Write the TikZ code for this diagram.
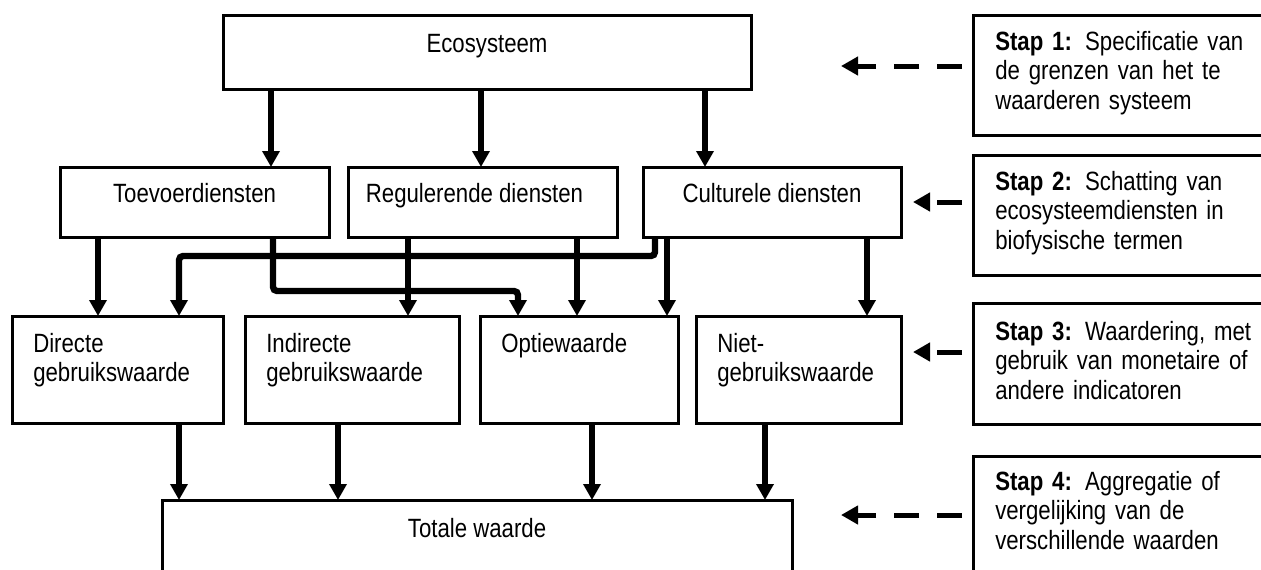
\documentclass[tikz,border=0pt]{standalone}
\usepackage{fontspec}
\setmainfont{Liberation Sans}[FakeStretch=0.84]
\usetikzlibrary{arrows.meta,positioning}

\begin{document}
\begin{tikzpicture}[
  x=0.25mm, y=-0.25mm,
  box/.style={draw=black, line width=0.75mm, anchor=north west,
              inner sep=0pt, outer sep=0pt},
  txt/.style={inner sep=0pt, font=\fontsize{18.8}{21}\selectfont},
  label/.style={txt, anchor=base},
  val/.style={txt, anchor=base west, text width=50mm, align=left},
  stap/.style={txt, anchor=base west, text width=72mm, align=left},
  link/.style={-{Triangle[length=4mm, width=4.2mm]}, line width=1.6mm, draw=black},
  back/.style={-{Triangle[length=4.25mm, width=4.5mm]}, line width=1.25mm,
               dash pattern=on 6.25mm off 4.5mm, shorten <=2.75mm, draw=black}
]
\useasboundingbox (0,0) rectangle (1261,569);
\clip (0,0) rectangle (1261,569);

% ecosystem
\node[box, minimum width=132mm, minimum height=18.5mm] (eco) at (223,15) {};
\node[label] (eco-t) at ([yshift=-9.25mm]eco.north) {Ecosysteem};

% services
\node[box, minimum width=67.25mm, minimum height=17.5mm] (toe) at (60,167) {};
\node[box, minimum width=67.25mm, minimum height=17.5mm] (reg) at (348,167) {};
\node[box, minimum width=64.5mm, minimum height=17.5mm] (cul) at (643,167) {};
\node[label] (toe-t) at ([yshift=-8.75mm]toe.north) {Toevoerdiensten};
\node[label] (reg-t) at ([xshift=-2mm, yshift=-8.75mm]reg.north) {Regulerende diensten};
\node[label] (cul-t) at ([yshift=-8.75mm]cul.north) {Culturele diensten};

% values
\node[box, minimum width=52.75mm, minimum height=26.75mm] (dir) at (12,316) {};
\node[box, minimum width=53.5mm, minimum height=26.75mm] (ind) at (245,316) {};
\node[box, minimum width=49.5mm, minimum height=26.75mm] (opt) at (480,316) {};
\node[box, minimum width=51.25mm, minimum height=26.75mm] (niet) at (696,316) {};
\node[val] (dir-t) at ([xshift=5.25mm, yshift=-9mm]dir.north west) {Directe\\gebruikswaarde};
\node[val] (ind-t) at ([xshift=5.25mm, yshift=-9mm]ind.north west) {Indirecte\\gebruikswaarde};
\node[val] (opt-t) at ([xshift=5.25mm, yshift=-9mm]opt.north west) {Optiewaarde};
\node[val] (niet-t) at ([xshift=5.25mm, yshift=-9mm]niet.north west) {Niet-\\gebruikswaarde};

% total
\node[box, minimum width=157.5mm, minimum height=25mm] (tot) at (162,500) {};
\node[label] (tot-t) at ([yshift=-9.25mm]tot.north) {Totale waarde};

% steps
\node[box, minimum width=81.75mm, minimum height=30mm] (st1) at (973,15) {};
\node[box, minimum width=81.75mm, minimum height=30mm] (st2) at (973,155) {};
\node[box, minimum width=81.75mm, minimum height=30.25mm] (st3) at (973,303) {};
\node[box, minimum width=81.75mm, minimum height=36mm] (st4) at (973,456) {};
\node[stap] (st1-t) at ([xshift=5.5mm, yshift=-8.75mm]st1.north west)
  {\textbf{Stap 1:} Specificatie van\\de grenzen van het te\\waarderen systeem};
\node[stap] (st2-t) at ([xshift=5.5mm, yshift=-8.75mm]st2.north west)
  {\textbf{Stap 2:} Schatting van\\ecosysteemdiensten in\\biofysische termen};
\node[stap] (st3-t) at ([xshift=5.5mm, yshift=-9.25mm]st3.north west)
  {\textbf{Stap 3:} Waardering, met\\gebruik van monetaire of\\andere indicatoren};
\node[stap] (st4-t) at ([xshift=5.5mm, yshift=-8.5mm]st4.north west)
  {\textbf{Stap 4:} Aggregatie of\\vergelijking van de\\verschillende waarden};

% ecosystem -> services
\draw[link] (eco.south -| 271,0) -- (toe.north -| 271,0);
\draw[link] (eco.south -| 481,0) -- (reg.north -| 481,0);
\draw[link] (eco.south -| 705,0) -- (cul.north -| 705,0);

% services -> values
\draw[link] (toe.south -| 98,0) -- (dir.north -| 98,0);
\draw[link, rounded corners=1mm] (toe.south -| 273,0) |- (518,291) -- (opt.north -| 518,0);
\draw[link] (reg.south -| 408,0) -- (ind.north -| 408,0);
\draw[link] (reg.south -| 577,0) -- (opt.north -| 577,0);
\draw[link, rounded corners=1mm] (cul.south -| 655,0) |- (179,256) -- (dir.north -| 179,0);
\draw[link] (cul.south -| 667,0) -- (opt.north -| 667,0);
\draw[link] (cul.south -| 867,0) -- (niet.north -| 867,0);

% values -> total
\draw[link] (dir.south -| 179,0) -- (tot.north -| 179,0);
\draw[link] (ind.south -| 338,0) -- (tot.north -| 338,0);
\draw[link] (opt.south -| 592,0) -- (tot.north -| 592,0);
\draw[link] (niet.south -| 765,0) -- (tot.north -| 765,0);

% steps point back at the levels
\coordinate (aim1) at (841,66);
\coordinate (aim2) at (913,202);
\coordinate (aim3) at (913,352);
\coordinate (aim4) at (841,515);
\draw[back] (st1.west |- aim1) -- (aim1);
\draw[back] (st2.west |- aim2) -- (aim2);
\draw[back] (st3.west |- aim3) -- (aim3);
\draw[back] (st4.west |- aim4) -- (aim4);
\end{tikzpicture}
\end{document}
